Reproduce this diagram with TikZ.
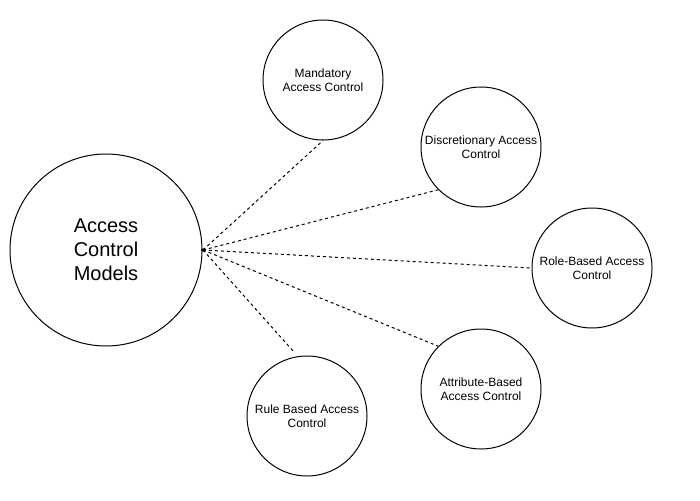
\documentclass[tikz,border=0pt]{standalone}
\usepackage{fontspec}
\setmainfont{Liberation Sans}
\begin{document}
\begin{tikzpicture}[x=1pt,y=-1pt,
  model/.style={circle,draw=black,line width=1pt,inner sep=0pt,minimum size=120pt,align=center,font=\fontsize{12}{14.5}\selectfont},
  mainmodel/.style={circle,draw=black,line width=1pt,inner sep=0pt,minimum size=192pt,align=center,font=\fontsize{20}{24}\selectfont},
  link/.style={line width=1pt,dash pattern=on 3pt off 3pt}]
\useasboundingbox (0,0) rectangle (700,500);
\fill[white] (0,0) rectangle (700,500);
\node[mainmodel] (acm) at (106,250) {Access\\Control\\Models};
\node[model] (mac) at (323,80) {Mandatory\\Access Control};
\node[model] (dac) at (481,147) {Discretionary Access\\Control};
\node[model] (rbac) at (592,268) {Role-Based Access\\Control};
\node[model] (abac) at (481,389) {Attribute-Based\\Access Control};
\node[model] (rule) at (307,416) {Rule Based Access\\Control};
\coordinate (hub) at (203,250);
\coordinate (ruleend) at (294,352);
\fill (hub) circle (1.8pt);
\draw[link] (hub) -- (mac.south);
\draw[link] (hub) -- (dac.225);
\draw[link] (hub) -- (rbac.west);
\draw[link] (hub) -- (abac.135);
\draw[link] (hub) -- (ruleend);
\end{tikzpicture}
\end{document}
